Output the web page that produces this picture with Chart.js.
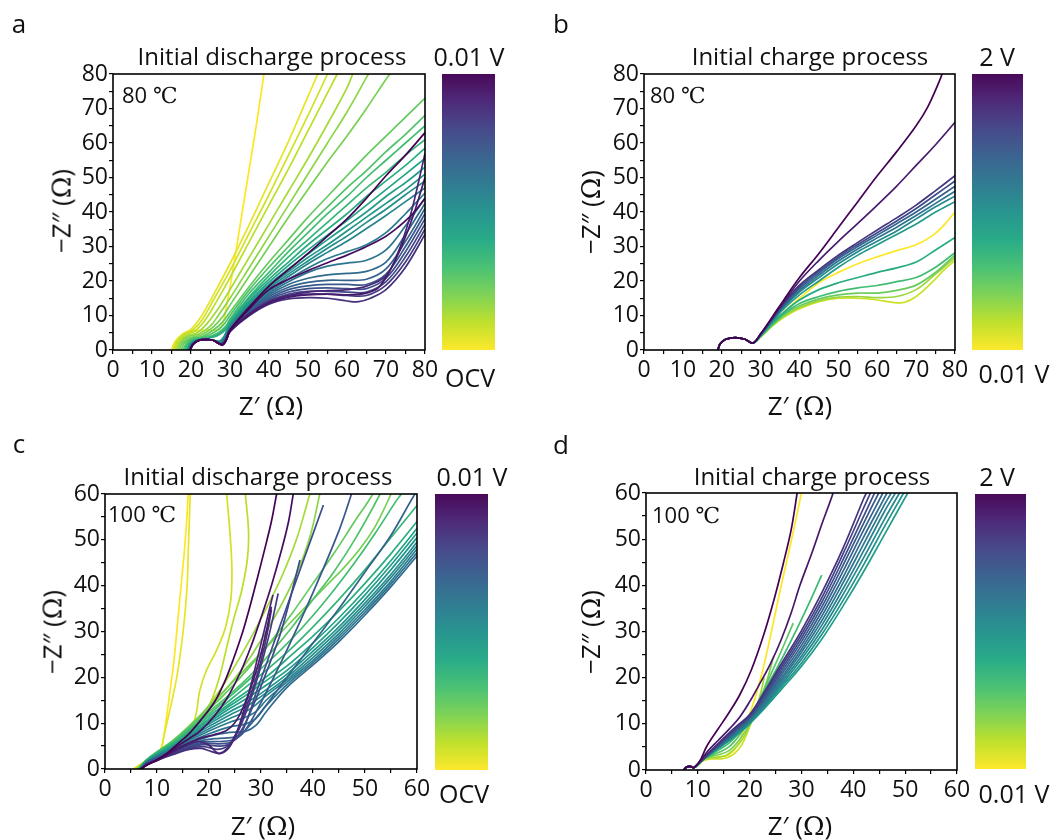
<!DOCTYPE html>
<html><head><meta charset="utf-8">
<script src="https://cdn.jsdelivr.net/npm/chart.js@4.4.1/dist/chart.umd.min.js"></script>
<style>
body{margin:0;background:#fff;width:1056px;height:840px;overflow:hidden;position:relative;font-family:"Open Sans",sans-serif;color:#111}
canvas{position:absolute}
.t{position:absolute;white-space:nowrap;line-height:1;transform:translate(-50%,-50%)}
.l{position:absolute;white-space:nowrap;line-height:1;transform:translate(0,-50%)}
.r{position:absolute;white-space:nowrap;line-height:1;transform:translate(-50%,-50%) rotate(-90deg)}
.s{font-family:"DejaVu Serif","Liberation Serif",serif}
.bar{position:absolute;background:linear-gradient(to bottom,#440154 0%,#482475 10%,#414487 20%,#355f8d 30%,#2a788e 40%,#21918c 50%,#22a884 60%,#44bf70 70%,#7ad151 80%,#bddf26 90%,#fde725 100%);opacity:.97}
</style></head><body>

<canvas id="ca" width="540" height="420" style="left:0;top:0"></canvas>
<canvas id="cb" width="516" height="420" style="left:540px;top:0"></canvas>
<canvas id="cc" width="540" height="420" style="left:0;top:420px"></canvas>
<canvas id="cd" width="516" height="420" style="left:540px;top:420px"></canvas>

<div class="bar" style="left:442px;top:74px;width:53px;height:276px"></div>
<div class="bar" style="left:972px;top:74px;width:51px;height:276px"></div>
<div class="bar" style="left:435px;top:494px;width:53px;height:276px"></div>
<div class="bar" style="left:975px;top:494px;width:51px;height:275px"></div>

<div id="texts"></div>

<script>
// ---------------- data (Z' , -Z'' in ohm) ----------------
const rangeAB = [0, 80];
const rangeCD = [0, 60];
const titles = ['Initial discharge process', 'Initial charge process', 'Initial discharge process', 'Initial charge process'];
const temps = ['80 ', '80 ', '100 ', '100 '];
const barTop = ['0.01 V', '2 V', '0.01 V', '2 V'];
const barBottom = ['OCV', '0.01 V', 'OCV', '0.01 V'];
const letters = ['a', 'b', 'c', 'd'];

// panel a: 80 °C discharge, OCV (first) -> 0.01 V (last)
const curvesA = [
 [[15,0],[15.8,2.2],[17.5,4.2],[20,5.3],[24,5.8],[27.5,6.2],[29.3,14],[31,25],[33,39],[35,53],[37,67],[38.7,80],[39.2,84]],
 [[15.2,0],[16,2.4],[17.8,4.6],[20,6],[22.5,9.5],[26,16.5],[30,25],[35,36.5],[40,48.5],[45,60.5],[50,73.5],[52.5,80],[53.5,83]],
 [[15.5,0],[16.3,2.4],[18,4.5],[20.5,5.8],[23,9],[26,15],[30,23],[35,34],[40,45],[45,56.5],[50,68],[55,80],[56,83]],
 [[15.8,0],[16.6,2.3],[18.3,4.3],[21,5.5],[23.5,8.5],[26,13],[30,21],[35,31.5],[40,42],[45,52.5],[50,63.5],[55,74.5],[57.5,80],[59,83]],
 [[16.2,0],[17,2.2],[18.7,4],[21.5,5],[24,7.5],[27,12],[30,17.5],[35,27],[40,36.5],[45,46],[50,55.5],[55,65.5],[60,76],[61.5,80],[63,83]],
 [[16.6,0],[17.4,2.1],[19,3.8],[22,4.6],[25,7],[27,10],[30,15],[35,24],[40,33],[45,42],[50,51],[55,60],[60,69],[65,79],[65.5,80],[67,83]],
 [[17,0],[17.8,2],[19.4,3.5],[22.5,4.3],[25.5,6.5],[28,9.5],[30,13],[35,21.5],[40,30],[45,38.5],[50,46.5],[55,54.5],[60,62],[65,70],[70,78.5],[71,80],[73,83]],
 [[17.5,0],[18.3,2],[20,3.3],[23,4],[26,6],[28,8],[30,11],[35,18.5],[40,25.5],[45,32],[50,38.5],[55,44.5],[60,50.5],[65,56.5],[70,62],[75,67.5],[80,73]],
 [[18,0],[18.8,1.9],[20.4,3.2],[23.5,3.8],[26.5,5.5],[28.5,7.5],[30,10],[35,17.5],[40,24],[45,30],[50,36],[55,41.5],[60,47],[65,52],[70,57.5],[75,62.5],[80,68]],
 [[18.4,0],[19.2,1.9],[20.8,3.1],[24,3.6],[27,5],[29,7],[30,9],[35,16.5],[40,22.5],[45,28.5],[50,34],[55,39.5],[60,44.5],[65,50],[70,55],[75,60],[80,65]],
 [[18.8,0],[19.5,1.8],[21,3],[24,3.4],[27,4.6],[29,6.5],[30,8.5],[35,15.5],[40,21.5],[45,27],[50,32],[55,37],[60,42],[65,47],[70,51.5],[75,56.5],[80,61]],
 [[19,0],[19.7,1.8],[21.2,2.9],[24,3.3],[27,4.3],[29,6],[30,8],[35,15],[40,20.5],[45,25.5],[50,30.5],[55,35],[60,39.5],[65,44.5],[70,49],[75,53.5],[80,58.5]],
 [[19.2,0],[19.9,1.7],[21.3,2.8],[23.5,3.1],[25.5,2.9],[27.3,2.6],[28.5,4],[30,7.5],[35,14.3],[40,19.7],[45,24.5],[50,29],[55,33.3],[60,37.5],[65,42],[70,46.5],[75,51],[80,55.5]],
 [[19.3,0],[20,1.7],[21.4,2.8],[23.5,3.1],[25.5,2.9],[27.4,2.4],[28.5,3.8],[30,7.2],[35,13.8],[40,19],[45,23.5],[50,27.8],[55,32],[60,36],[65,40],[70,44.5],[75,48.5],[80,53]],
 [[19.4,0],[20.1,1.7],[21.5,2.8],[23.5,3.1],[25.5,2.9],[27.5,2.3],[28.5,3.6],[30,7],[35,13.3],[40,18.4],[45,22.7],[50,26.8],[55,30.5],[60,34.5],[65,38.5],[70,42.5],[75,46.5],[80,51]],
 [[19.5,0],[20.2,1.6],[21.5,2.7],[23.5,3],[25.5,2.9],[27.5,2.2],[28.5,3.4],[30,6.8],[35,13],[40,17.9],[45,22],[50,25.8],[55,29.5],[60,33],[65,37],[70,40.8],[75,45],[80,49]],
 [[19.5,0],[20.2,1.6],[21.5,2.7],[23.5,3],[25.5,2.9],[27.6,2.1],[28.6,3.3],[30,6.6],[35,12.7],[40,17.4],[45,21.3],[50,25],[55,28.3],[60,31.5],[65,35.2],[70,39],[75,43],[80,47]],
 [[19.5,0],[20.2,1.6],[21.5,2.7],[23.5,3],[25.5,2.9],[27.6,2],[28.6,3.2],[30,6.4],[35,12.4],[40,17],[45,20.5],[50,23.8],[55,26.5],[60,28.5],[65,30.5],[70,34],[75,39.5],[80,45.5]],
 [[19.5,0],[20.2,1.6],[21.5,2.7],[23.5,3],[25.5,2.9],[27.7,1.9],[28.7,3.1],[30,6.2],[35,12],[40,16.5],[45,19.8],[50,22.5],[55,24.3],[60,25.2],[65,26],[70,29],[75,36],[80,44]],
 [[19.6,0],[20.3,1.6],[21.6,2.7],[23.5,3],[25.5,2.9],[27.7,1.8],[28.7,3],[30,6],[35,11.7],[40,16],[45,19],[50,20.8],[55,21.8],[60,22.2],[65,22.8],[70,25.5],[75,33.5],[80,42.5]],
 [[19.6,0],[20.3,1.6],[21.6,2.7],[23.5,3],[25.5,2.9],[27.8,1.8],[28.8,3],[30,5.8],[35,11.4],[40,15.5],[45,18.2],[50,19.6],[55,20.2],[60,20.2],[65,20.5],[70,23.5],[75,31.5],[80,41]],
 [[19.6,0],[20.3,1.6],[21.6,2.7],[23.5,3],[25.5,2.9],[27.8,1.7],[28.8,2.9],[30,5.7],[35,11.1],[40,15],[45,17.5],[50,18.6],[55,19],[60,19],[65,19],[70,22],[75,30],[80,39.5]],
 [[19.7,0],[20.4,1.6],[21.7,2.7],[23.5,3],[25.5,2.9],[27.9,1.7],[28.9,2.9],[30,5.6],[35,10.9],[40,14.6],[45,16.8],[50,17.8],[55,18],[60,17.8],[65,17.8],[70,20.8],[75,28.5],[80,38]],
 [[19.7,0],[20.4,1.6],[21.7,2.7],[23.5,3],[25.5,2.9],[27.9,1.6],[28.9,2.8],[30,5.5],[35,10.6],[40,14.2],[45,16.2],[50,17],[55,17],[60,16.8],[65,16.8],[70,19.8],[75,27],[80,36.5]],
 [[19.7,0],[20.4,1.6],[21.7,2.7],[23.5,3],[25.5,2.9],[28,1.6],[29,2.8],[30,5.4],[35,10.3],[40,13.8],[45,15.6],[50,16.2],[55,16.2],[60,15.8],[65,15.8],[70,18.8],[75,25.5],[80,35]],
 [[19.8,0],[20.5,1.6],[21.8,2.7],[23.5,3],[25.5,2.9],[28,1.5],[29,2.7],[30,5.3],[35,10],[40,13.3],[45,14.8],[50,15.2],[55,15],[60,14.2],[63,14],[66,15],[70,17.5],[75,24],[80,33.5]],
 [[19.8,0],[20.5,1.6],[21.8,2.7],[23.5,3],[25.5,2.9],[28,1.5],[29,2.8],[30,5.5],[35,10.5],[40,14],[45,15.8],[50,16.8],[55,17.2],[60,17.5],[65,18.5],[70,21.5],[73,28],[76,38],[78,47],[80,57]],
 [[19.8,0],[20.5,1.6],[21.8,2.7],[23.5,3],[25.5,2.9],[28,1.5],[29,2.8],[30,5.4],[35,10.3],[40,13.6],[45,15.3],[50,16],[55,16.2],[60,16],[65,16.5],[68,18],[71,23],[74,30],[77,39],[80,50]],
 [[19.8,0],[20.5,1.6],[21.8,2.7],[23.5,3],[25.5,2.9],[28,1.5],[29,2.9],[30,5.6],[35,12],[40,17.5],[45,20.5],[50,23],[55,25.3],[60,27.5],[65,30],[70,33],[73,35.5],[76,38.5],[78,41],[80,44]],
 [[19.8,0],[20.5,1.6],[21.8,2.7],[23.5,3],[25.5,2.9],[28,1.5],[29,3],[30,5.8],[35,12.5],[40,18.5],[45,23.3],[50,28],[55,33],[60,38],[65,44],[70,50.5],[75,56.5],[80,63]]
];

// panel b: 80 °C charge, 0.01 V (first) -> 2 V (last)
const curvesB = [
 [[19,0],[19.6,1.8],[21,3.1],[23.5,3.6],[26,3.1],[28,2],[30,4],[33,7.5],[36,11],[40,15],[45,19.5],[50,22.5],[55,25],[60,27],[65,28.8],[70,30.5],[74,33],[77,36],[80,40]],
 [[19,0],[19.6,1.8],[21,3.1],[23.5,3.6],[26,3.1],[28,2],[30,3.8],[33,7],[36,9.5],[40,12],[45,14],[50,15],[55,15],[60,14.5],[64,13.8],[67,13.8],[70,15.5],[74,19.5],[77,23],[80,26]],
 [[19,0],[19.6,1.8],[21,3.1],[23.5,3.6],[26,3.1],[28,2],[30,3.8],[33,7],[36,9.8],[40,12.3],[45,14.3],[50,15.3],[55,15.5],[60,15.2],[65,15.5],[70,17.5],[75,22],[80,26.8]],
 [[19,0],[19.6,1.8],[21,3.1],[23.5,3.6],[26,3.1],[28,2],[30,3.9],[33,7.2],[36,10.2],[40,12.8],[45,14.8],[50,16],[55,16.5],[60,16.5],[65,17.3],[70,18.8],[75,22.5],[80,27.5]],
 [[19,0],[19.6,1.8],[21,3.1],[23.5,3.6],[26,3.1],[28,2],[30,4],[33,7.5],[36,10.5],[40,13.5],[45,15.5],[50,17],[55,18],[60,18.7],[65,19.8],[70,21],[75,24],[80,28.2]],
 [[19,0],[19.6,1.8],[21,3.1],[23.5,3.6],[26,3.1],[28,2],[30,4],[33,7.8],[36,11],[40,14.5],[45,17.5],[50,19.5],[55,21],[60,22.5],[65,23.8],[70,25.5],[75,29],[80,32.6]],
 [[19,0],[19.6,1.8],[21,3.1],[23.5,3.6],[26,3.1],[28,2],[30,4.2],[33,8.2],[36,12],[40,16],[45,20],[50,24],[55,27.5],[60,30.5],[65,33.5],[70,36.5],[75,40],[80,43]],
 [[19,0],[19.6,1.8],[21,3.1],[23.5,3.6],[26,3.1],[28,2],[30,4.3],[33,8.5],[36,12.5],[40,16.8],[45,21],[50,25],[55,28.5],[60,31.5],[65,34.5],[70,38],[75,41.5],[80,44.6]],
 [[19,0],[19.6,1.8],[21,3.1],[23.5,3.6],[26,3.1],[28,2],[30,4.4],[33,8.7],[36,12.8],[40,17.3],[45,21.7],[50,25.8],[55,29.3],[60,32.5],[65,35.6],[70,39],[75,42.5],[80,46]],
 [[19,0],[19.6,1.8],[21,3.1],[23.5,3.6],[26,3.1],[28,2],[30,4.5],[33,8.9],[36,13.1],[40,17.8],[45,22.3],[50,26.5],[55,30],[60,33.3],[65,36.6],[70,40],[75,43.7],[80,47.5]],
 [[19,0],[19.6,1.8],[21,3.1],[23.5,3.6],[26,3.1],[28,2],[30,4.5],[33,9],[36,13.4],[40,18.3],[45,22.8],[50,27],[55,30.6],[60,34],[65,37.4],[70,41],[75,45],[80,49]],
 [[19,0],[19.6,1.8],[21,3.1],[23.5,3.6],[26,3.1],[28,2],[30,4.6],[33,9.2],[36,13.7],[40,18.8],[45,23.3],[50,27.5],[55,31.2],[60,34.8],[65,38.3],[70,42],[75,46.2],[80,50.5]],
 [[19,0],[19.6,1.8],[21,3.1],[23.5,3.6],[26,3.1],[28,2],[30,4.6],[33,9.3],[36,14],[40,20],[45,26],[50,31.5],[55,36.7],[60,42],[65,47.5],[70,53.5],[75,59.5],[80,66]],
 [[19,0],[19.6,1.8],[21,3.1],[23.5,3.6],[26,3.1],[28,2],[30,4.7],[33,9.6],[36,14.6],[40,21],[45,28],[50,35.5],[55,43],[60,50.5],[65,57.5],[70,65],[73,70.5],[76,78],[77,81]]
];

// panel c: 100 °C discharge, OCV (first) -> 0.01 V (last)
const curvesC = [
 [[5.5,0],[7.5,1.5],[9.5,3],[10.6,4],[11.2,6.5],[11.8,11],[12.5,17],[13.2,23],[13.8,30],[14.3,36],[14.8,42],[15.3,48],[15.7,54],[16,60],[16.2,64]],
 [[5.5,0],[7.5,1.5],[9.5,3],[10.8,4.5],[11.3,7],[12.5,13],[13.8,20],[14.7,27],[15.3,33],[15.8,40],[16,47],[16.2,54],[16.4,60],[16.5,64]],
 [[6,0],[8,1.8],[10,3.5],[12.5,5],[15,7],[16.8,9.5],[17.6,12.5],[18.2,17],[19.5,21.5],[21.5,26],[23.2,31],[24.2,37],[24.4,44],[24,52],[23.4,60],[23.2,64]],
 [[6,0],[8,1.8],[10,3.5],[13,5.5],[16,8],[18.5,11],[20.5,15],[22,20],[23.3,26],[24.7,32.5],[26.3,39],[27.4,46],[27.6,52],[27,60],[26.8,64]],
 [[6,0],[8,2],[10,3.6],[13,6],[16,9],[19,12.5],[22,17],[25,22.5],[28,28.5],[31,35],[34,42],[36.8,50],[39.4,60],[40.5,64]],
 [[6.2,0],[8,2],[10,3.6],[13,6],[16,9],[19,12.3],[22,15.8],[25,19.8],[28,24.5],[31,30],[34,36],[37,43],[39.5,51],[41.3,60],[42,64]],
 [[6.3,0],[8,2],[10,3.7],[13,6.2],[16,9.2],[19,12.5],[22,16],[25,19.5],[28,23],[31,26.5],[34,30],[37,33.5],[40,37],[43,40.5],[46,44],[49,48],[52,53],[55,60],[56,63]],
 [[6.4,0],[8,2],[10,3.7],[13,6],[16,9],[20,13],[24,17.5],[28,22.5],[32,28],[36,34],[40,40.5],[44,47],[48,54],[51.5,60],[52.5,63]],
 [[6.5,0],[8,2],[10,3.7],[13,6],[16,8.8],[20,12.5],[24,16.3],[28,20.5],[32,25.5],[36,31],[40,37],[44,43],[48,50],[52.9,60],[54,63]],
 [[6.5,0],[8,1.9],[10,3.6],[13,5.8],[16,8.5],[20,12],[24,15.8],[28,19.8],[32,24],[36,28.5],[40,33.5],[44,39],[48,45],[52,51.5],[56,58.5],[57,60],[58,62]],
 [[6.5,0],[8,1.9],[10,3.5],[13,5.6],[16,8.2],[20,11.5],[24,15],[28,18.7],[32,22.5],[36,26.5],[40,31],[45,37],[50,43.5],[55,50.5],[60,57.5],[61,59]],
 [[6.5,0],[8,1.8],[10,3.3],[13,5.3],[16,7.8],[20,11],[24,14.3],[28,17.5],[32,21],[36,25],[40,29],[45,34.5],[50,40.5],[55,47],[60,54],[61,55.5]],
 [[6.6,0],[8,1.7],[10,3.2],[13,5.1],[16,7.5],[20,10.6],[24,13.8],[27,16],[30,18.5],[35,22.5],[40,27.5],[45,33],[50,39],[55,45.5],[60,52.5],[61,54]],
 [[6.6,0],[8,1.7],[10,3.1],[13,5],[16,7.2],[20,10.2],[24,13.2],[27,15.2],[30,17.5],[35,21.5],[40,26.5],[45,32],[50,38],[55,44.5],[60,51.5],[61,53]],
 [[6.7,0],[8,1.6],[10,3],[13,4.8],[16,7],[20,9.8],[24,12.5],[27,14.3],[30,16.5],[35,20.7],[40,25.7],[45,31],[50,37],[55,43.5],[60,50.5],[61,52]],
 [[6.7,0],[8,1.6],[10,2.9],[13,4.6],[16,6.7],[20,9.3],[24,11.8],[27,13.5],[30,15.8],[35,20],[40,25],[45,30.3],[50,36.2],[55,42.5],[60,49.5],[61,51]],
 [[6.8,0],[8,1.5],[10,2.8],[13,4.5],[16,6.4],[20,8.8],[24,11],[27,12.5],[29,14],[31,16],[35,19.5],[40,24.3],[45,29.6],[50,35.5],[55,41.8],[60,48.7],[61,50]],
 [[6.8,0],[8,1.5],[10,2.7],[13,4.3],[16,6.1],[20,8.3],[24,10.2],[27,11.3],[29,12.5],[31,15],[35,19],[40,23.7],[45,29],[50,34.8],[55,41],[60,48],[61,49.5]],
 [[6.9,0],[8,1.4],[10,2.6],[13,4.1],[16,5.8],[20,7.7],[24,9.2],[27,9.8],[29,11],[31,13.8],[35,18.4],[40,23.2],[45,28.4],[50,34.2],[55,40.4],[60,47.2],[61,48.5]],
 [[6.9,0],[8,1.4],[10,2.5],[13,4],[16,5.5],[20,7.1],[24,8],[27,8.2],[29,9.5],[31,12.5],[35,17.8],[40,22.7],[45,27.8],[50,33.6],[55,39.8],[60,46.5],[61,48]],
 [[7,0],[8,1.3],[10,2.4],[13,3.8],[16,5.2],[19,6.3],[22,6.7],[25,7],[27,8.5],[30,12.5],[35,20],[40,27.5],[45,35],[50,43],[55,51],[59.6,60],[61,62]],
 [[7,0],[8,1.2],[10,2.3],[13,3.7],[16,5],[19,5.9],[22,6],[25,6.5],[27,8.5],[30,14.5],[35,26],[40,38.5],[45,52],[47.4,60],[48.2,63]],
 [[7,0],[8,1.2],[10,2.2],[13,3.5],[16,4.8],[19,5.6],[22,5.5],[24.5,6],[26.5,8.5],[29,16.4],[32,26],[35,35.5],[38,45],[42,57.6]],
 [[7,0],[8,1.1],[10,2.1],[13,3.4],[16,4.6],[19,5.3],[22,5],[24,5.5],[26,8],[28,12.5],[31,21],[34,30.5],[37.5,45.6]],
 [[7,0],[8,1.1],[10,2],[13,3.3],[16,4.4],[19,4.9],[21.5,4.3],[23.5,5],[25.5,8],[27.5,13.5],[29.5,20.5],[31.5,29],[33.3,38.3]],
 [[7,0],[8,1],[10,1.9],[13,3.1],[16,4.2],[18.5,4.5],[20.5,3.8],[22,3.4],[23.5,4.5],[25.5,8.5],[27.5,14.5],[29.5,21.5],[31,28.5],[32,34.7]],
 [[7,0],[8,0.9],[10,1.8],[12,3],[14,4.2],[16,5.3],[18,6],[20,5.2],[21.8,3.4],[23.5,4.2],[25,7],[26.5,12],[28,18],[29.5,25],[31,32],[32.3,38]],
 [[6.9,0],[8,0.9],[10,1.9],[12,3.1],[14,4.5],[16,5.6],[18.5,6.8],[21,7.5],[23.5,8.5],[25.5,11],[27.5,16],[29.5,23],[31,30],[32,35.4]],
 [[6.8,0],[8,0.8],[10,2],[12,3.3],[14,5],[16,6.5],[18.5,8.5],[21,11.5],[23.5,15.5],[26,21],[28,26.5],[30,33],[32,40],[34,48],[35.3,54],[36.2,60],[36.6,63]],
 [[6.8,0],[8,0.8],[10,2],[12,3.5],[14,5.5],[16,7.5],[18.3,10.5],[21,14.5],[23,19],[24.7,24],[26.5,30],[28,36],[29.2,41.2],[30.5,47],[32,54],[33,60],[33.5,63]]
];

// panel d: 100 °C charge, 0.01 V (first) -> 2 V (last)
const curvesD = [
 [[7.3,0],[7.8,0.6],[8.5,0.8],[9.2,0.5],[10,1],[11,2],[12.5,2.6],[14,2.8],[16,3.3],[17.5,5],[18.8,8.5],[19.8,11.5],[21,15.5],[22.5,21.5],[24.2,30],[25.9,39],[28,49.5],[30,60],[30.5,63]],
 [[7.3,0],[7.8,0.6],[8.5,0.8],[9.2,0.5],[10,1],[11,2],[12.5,2.4],[14,2.4],[15.5,2.6],[17,3.5],[18.5,5.5],[19.5,8],[20.5,11],[21.5,14.5]],
 [[7.3,0],[7.8,0.6],[8.5,0.8],[9.2,0.5],[10,1],[11,2.1],[12.5,2.6],[14,2.8],[15.5,3.2],[17,4.5],[18.5,6.5],[20,9.5],[21.3,13.5],[22.2,17],[22.8,20]],
 [[7.3,0],[7.8,0.6],[8.5,0.8],[9.2,0.5],[10,1],[11,2.2],[12.5,2.9],[14,3.3],[16,4.2],[18,6.5],[20,10],[22,15],[23.5,20],[24.6,24.5]],
 [[7.3,0],[7.8,0.6],[8.5,0.8],[9.2,0.5],[10,1],[11,2.3],[12.5,3.1],[14,3.8],[16,5],[18,7.5],[20,11],[22,15.5],[24,20.5],[26,25.5],[28.4,31.8]],
 [[7.3,0],[7.8,0.6],[8.5,0.8],[9.2,0.5],[10,1],[11,2.4],[12.5,3.3],[14,4.3],[16,5.8],[18,8.2],[20,11.5],[22,15.5],[25,21.5],[28,28],[31,35],[33.9,42.2]],
 [[7.3,0],[7.8,0.6],[8.5,0.8],[9.2,0.5],[10.1,1.4],[12,3.1],[14,4.7],[16,6.3],[18,8],[20,10],[23,13.5],[26,17.3],[30,22.5],[34,28.5],[38,35.5],[42,43],[46,51],[50.5,60],[51.5,62]],
 [[7.3,0],[7.8,0.6],[8.5,0.8],[9.2,0.5],[10.1,1.4],[12,3.1],[14,4.8],[16,6.4],[18,8.2],[20,10.2],[23,13.8],[26,17.8],[30,23.2],[34,29.5],[38,36.7],[42,44.5],[46,52.7],[49.7,60],[50.7,62]],
 [[7.3,0],[7.8,0.6],[8.5,0.8],[9.2,0.5],[10.1,1.4],[12,3.2],[14,4.9],[16,6.6],[18,8.4],[20,10.4],[23,14.1],[26,18.3],[30,24],[34,30.5],[38,38],[42,46],[46,54.3],[48.9,60],[49.9,62]],
 [[7.3,0],[7.8,0.6],[8.5,0.8],[9.2,0.5],[10.1,1.4],[12,3.2],[14,5],[16,6.8],[18,8.6],[20,10.6],[23,14.4],[26,18.8],[30,24.7],[34,31.5],[38,39.2],[42,47.5],[46,56],[48.1,60],[49,62]],
 [[7.3,0],[7.8,0.6],[8.5,0.8],[9.2,0.5],[10.1,1.4],[12,3.3],[14,5.1],[16,6.9],[18,8.8],[20,10.8],[23,14.8],[26,19.3],[30,25.5],[34,32.5],[38,40.5],[42,49],[46,57.5],[47.3,60],[48.2,62]],
 [[7.3,0],[7.8,0.6],[8.5,0.8],[9.2,0.5],[10.1,1.4],[12,3.3],[14,5.2],[16,7.1],[18,9],[20,11],[23,15.2],[26,19.8],[30,26.2],[34,33.5],[38,41.7],[42,50.5],[46.5,60],[47.4,62]],
 [[7.3,0],[7.8,0.6],[8.5,0.8],[9.2,0.5],[10.1,1.4],[12,3.4],[14,5.3],[16,7.2],[18,9.2],[20,11.2],[23,15.6],[26,20.4],[30,27],[34,34.5],[38,43],[42,52],[45.7,60],[46.6,62]],
 [[7.3,0],[7.8,0.6],[8.5,0.8],[9.2,0.5],[10.1,1.4],[12,3.4],[14,5.4],[16,7.4],[18,9.4],[20,11.4],[23,16],[26,21],[30,27.8],[34,35.5],[38,44.3],[42,53.5],[44.9,60],[45.8,62]],
 [[7.3,0],[7.8,0.6],[8.5,0.8],[9.2,0.5],[10.1,1.4],[12,3.5],[14,5.5],[16,7.5],[18,9.6],[20,11.6],[23,16.4],[26,21.6],[30,28.6],[34,36.5],[38,45.5],[42,55],[44.1,60],[45,62]],
 [[7.3,0],[7.8,0.6],[8.5,0.8],[9.2,0.5],[10.1,1.4],[12,3.5],[14,5.6],[16,7.7],[18,9.8],[20,11.8],[23,16.8],[26,22.2],[30,29.4],[34,37.5],[38,46.8],[42,56.8],[43.3,60],[44,62]],
 [[7.3,0],[7.8,0.6],[8.5,0.8],[9.2,0.5],[10.1,1.4],[12,3.6],[14,5.8],[16,8],[18,10],[20,12],[23,17.2],[26,22.8],[30,30.2],[34,38.6],[38,48],[42,58.8],[42.5,60],[43.2,62]],
 [[7.3,0],[7.8,0.6],[8.5,0.8],[9.2,0.5],[10.5,2],[12,4.2],[14,6.5],[16,8.8],[18.1,11.5],[20,14.8],[22,18.8],[24,23],[26,28],[28,34],[29.7,40],[32,47],[34,53.5],[36.1,60],[36.8,63]],
 [[7.3,0],[7.8,0.6],[8.5,0.8],[9.2,0.5],[10.5,2.2],[11.7,5.1],[13.8,8.7],[16,12.4],[18.1,16.3],[20.3,21.6],[22.6,28.9],[24.6,36.5],[26.5,44.8],[28,52],[29.1,59.6],[29.5,63]]
];

// colour-bar position of each curve (0 = bottom/yellow, 1 = top/purple)
const colorPosD = [0,0.08,0.14,0.2,0.26,0.32,0.45,0.49,0.53,0.57,0.61,0.65,0.69,0.73,0.77,0.81,0.86,0.94,1];

// ---------------- rendering ----------------
const VIR = ['#440154','#482475','#414487','#355f8d','#2a788e','#21918c','#22a884','#44bf70','#7ad151','#bddf26','#fde725'];
function hex(h){return [parseInt(h.slice(1,3),16),parseInt(h.slice(3,5),16),parseInt(h.slice(5,7),16)];}
function barColor(p){ // p: 0 bottom(yellow) .. 1 top(purple)
  const v = Math.min(1, Math.max(0, 1 - p)) * 10;
  const i = Math.min(9, Math.floor(v)), f = v - i;
  const a = hex(VIR[i]), b = hex(VIR[i+1]);
  return 'rgb(' + a.map((c,k)=>Math.round(c + (b[k]-c)*f)).join(',') + ')';
}
const linPos = n => Array.from({length:n}, (_, i) => i/(n-1));

const framePlugin = {id:'frame', afterDraw(c){
  const {ctx, chartArea:a} = c; ctx.save(); ctx.strokeStyle='#000'; ctx.lineWidth=1.6;
  ctx.strokeRect(a.left, a.top, a.right-a.left, a.bottom-a.top); ctx.restore(); }};

function makePanel(id, curves, pos, range, g){
  const tickFont = {family:'"Open Sans", sans-serif', size:23};
  const axis = (isY) => ({
    type:'linear', min:range[0], max:range[1],
    ticks:{stepSize:5, autoSkip:false, maxRotation:0, color:'#111', font:tickFont, padding: isY?1:3,
      callback:v => (v % 10 === 0 ? String(v) : '')},
    grid:{display:true, drawOnChartArea:false, drawTicks:true, tickLength:4, color:'#000', lineWidth:1.2},
    border:{display:false},
    afterFit(s){ if(isY) s.width = g.yw; else s.height = g.xh;
      s.paddingLeft = 0; s.paddingRight = 0; s.paddingTop = 0; s.paddingBottom = 0; }
  });
  const n = curves.length;
  new Chart(document.getElementById(id), {
    type:'scatter',
    data:{datasets: curves.map((c,i)=>({
      data:c.map(p=>({x:p[0], y:p[1]})), showLine:true, borderColor:barColor(pos[i]), order:n-i,
      borderWidth:1.7, pointRadius:0, pointHoverRadius:0, tension:0.35, clip:0, fill:false}))},
    options:{responsive:false, animation:false, events:[],
      layout:{padding:{left:0, top:g.top, right:g.right, bottom:0}},
      elements:{line:{capBezierPoints:false}},
      plugins:{legend:{display:false}, tooltip:{enabled:false}},
      scales:{x:axis(false), y:axis(true)}},
    plugins:[framePlugin]
  });
}

makePanel('ca', curvesA, linPos(curvesA.length), rangeAB, {yw:113, xh:70, top:74, right:115});
makePanel('cb', curvesB, linPos(curvesB.length), rangeAB, {yw:104, xh:70, top:74, right:101});
makePanel('cc', curvesC, linPos(curvesC.length), rangeCD, {yw:105, xh:71, top:74, right:123});
makePanel('cd', curvesD, colorPosD, rangeCD, {yw:106, xh:70, top:73, right:99});

// ---------------- text ----------------
const T = document.getElementById('texts');
function txt(cls, x, y, size, html){ const d=document.createElement('div'); d.className=cls;
  d.style.left=x+'px'; d.style.top=y+'px'; d.style.fontSize=size+'px'; d.innerHTML=html; T.appendChild(d); }
const L = [ // text anchors per panel
  {let:[19,23], title:[272,56], bt:[469,56], bb:[470,377], temp:[122,95], xt:[271,405], yt:[61,211]},
  {let:[561,23], title:[810,56], bt:[997,56], bb:[1014,373], temp:[650,95], xt:[800,405], yt:[590,212]},
  {let:[19,443], title:[258,476], bt:[472,476], bb:[464,793], temp:[108,514], xt:[263,825], yt:[52,632]},
  {let:[561,444], title:[812,476], bt:[997,476], bb:[1014,793], temp:[652,515], xt:[800,825], yt:[590,632]}
];
L.forEach((p,i)=>{
  txt('t', p.let[0], p.let[1], 26, letters[i]);
  txt('t', p.title[0], p.title[1], 24, titles[i]);
  txt('t', p.bt[0], p.bt[1], 25, barTop[i]);
  txt('t', p.bb[0], p.bb[1], 25, barBottom[i]);
  txt('l', p.temp[0], p.temp[1], 22, temps[i] + '<span class="s">℃</span>');
  txt('t', p.xt[0], p.xt[1], 26, 'Z′ (<span class="s">Ω</span>)');
  txt('r', p.yt[0], p.yt[1], 26, '−Z″ (<span class="s">Ω</span>)');
});
</script>
</body></html>
